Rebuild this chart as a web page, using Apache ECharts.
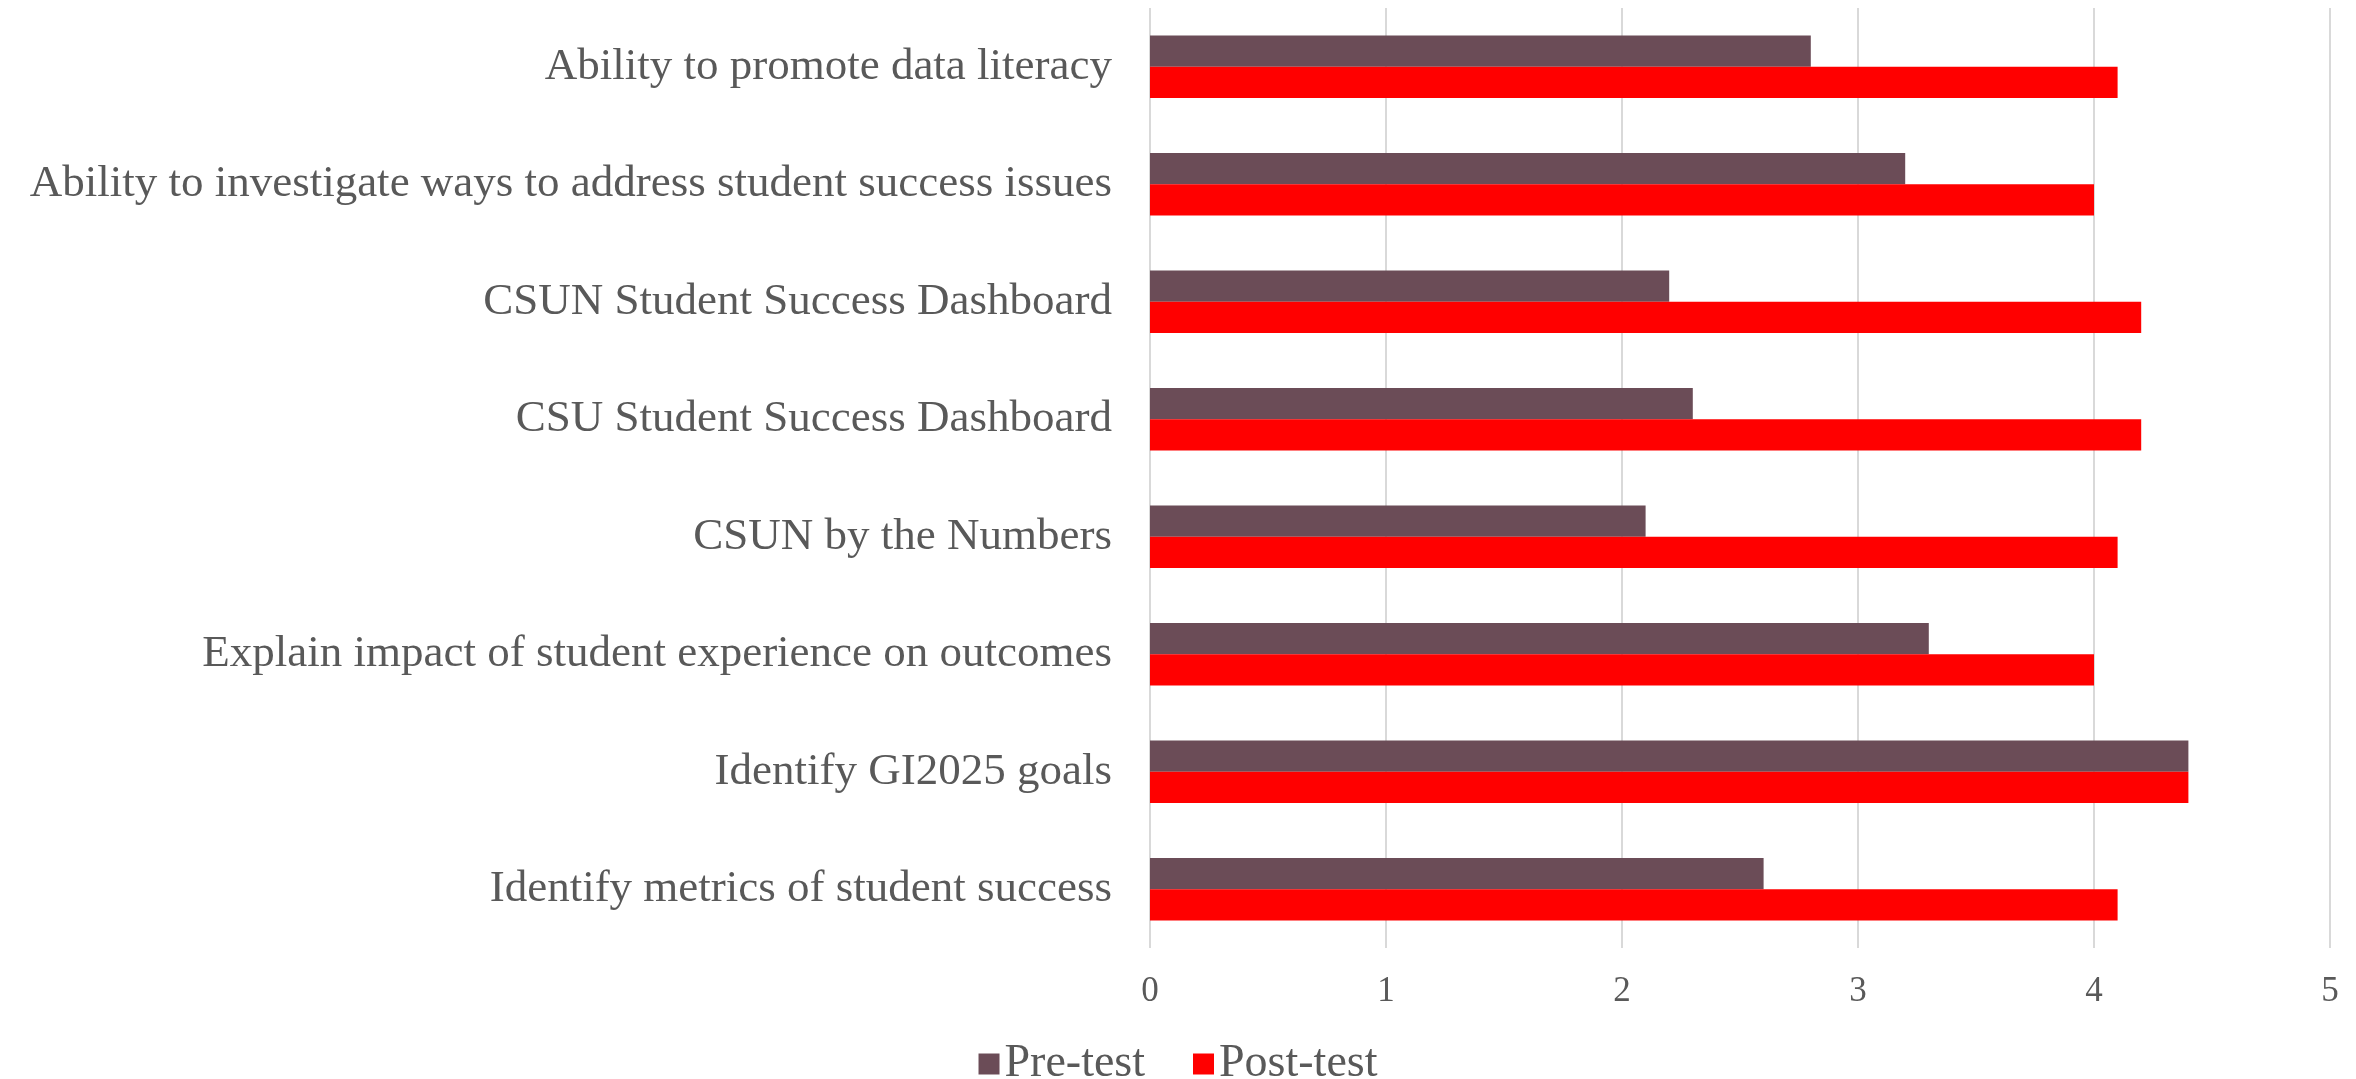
<!DOCTYPE html>
<html>
<head>
<meta charset="utf-8">
<script src="https://cdn.jsdelivr.net/npm/echarts@6/dist/echarts.min.js"></script>
<style>
  html, body { margin: 0; padding: 0; background: #fff; }
  #chart { width: 2356px; height: 1079px; }
</style>
</head>
<body>
<div id="chart"></div>
<script>
// categories, top to bottom
const categories = [
  'Ability to promote data literacy',
  'Ability to investigate ways to address student success issues',
  'CSUN Student Success Dashboard',
  'CSU Student Success Dashboard',
  'CSUN by the Numbers',
  'Explain impact of student experience on outcomes',
  'Identify GI2025 goals',
  'Identify metrics of student success'
];
const preTest = [2.8, 3.2, 2.2, 2.3, 2.1, 3.3, 4.4, 2.6];
const postTest = [4.1, 4.0, 4.2, 4.2, 4.1, 4.0, 4.4, 4.1];
const xTicks = [0, 1, 2, 3, 4, 5];

const font = '"Liberation Serif", "DejaVu Serif", serif';
const textColor = '#595959';

let myChart = echarts.init(document.getElementById('chart'));
let options = {
  animation: false,
  textStyle: { fontFamily: font },
  grid: { left: 1150, right: 26, top: 8, bottom: 131, containLabel: false },
  legend: {
    top: 1036,
    left: 'center',
    itemWidth: 21,
    itemHeight: 21,
    itemGap: 48,
    icon: 'rect',
    textStyle: { fontFamily: font, fontSize: 46, color: textColor },
    data: ['Pre-test', 'Post-test']
  },
  xAxis: {
    type: 'value',
    min: xTicks[0],
    max: xTicks[xTicks.length - 1],
    interval: 1,
    axisLine: { show: false },
    axisTick: { show: false },
    splitLine: { lineStyle: { color: '#d9d9d9', width: 2 } },
    axisLabel: { fontFamily: font, fontSize: 35, color: textColor, margin: 26 }
  },
  yAxis: {
    type: 'category',
    inverse: true,
    data: categories,
    axisLine: { show: false },
    axisTick: { show: false },
    axisLabel: { fontFamily: font, fontSize: 45, color: textColor, margin: 38 }
  },
  series: [
    {
      name: 'Pre-test',
      type: 'bar',
      data: preTest,
      barGap: '0%',
      barCategoryGap: '47%',
      itemStyle: { color: '#6b4c57' }
    },
    {
      name: 'Post-test',
      type: 'bar',
      data: postTest,
      barGap: '0%',
      barCategoryGap: '47%',
      itemStyle: { color: '#ff0000' }
    }
  ]
};
myChart.setOption(options);
</script>
</body>
</html>
